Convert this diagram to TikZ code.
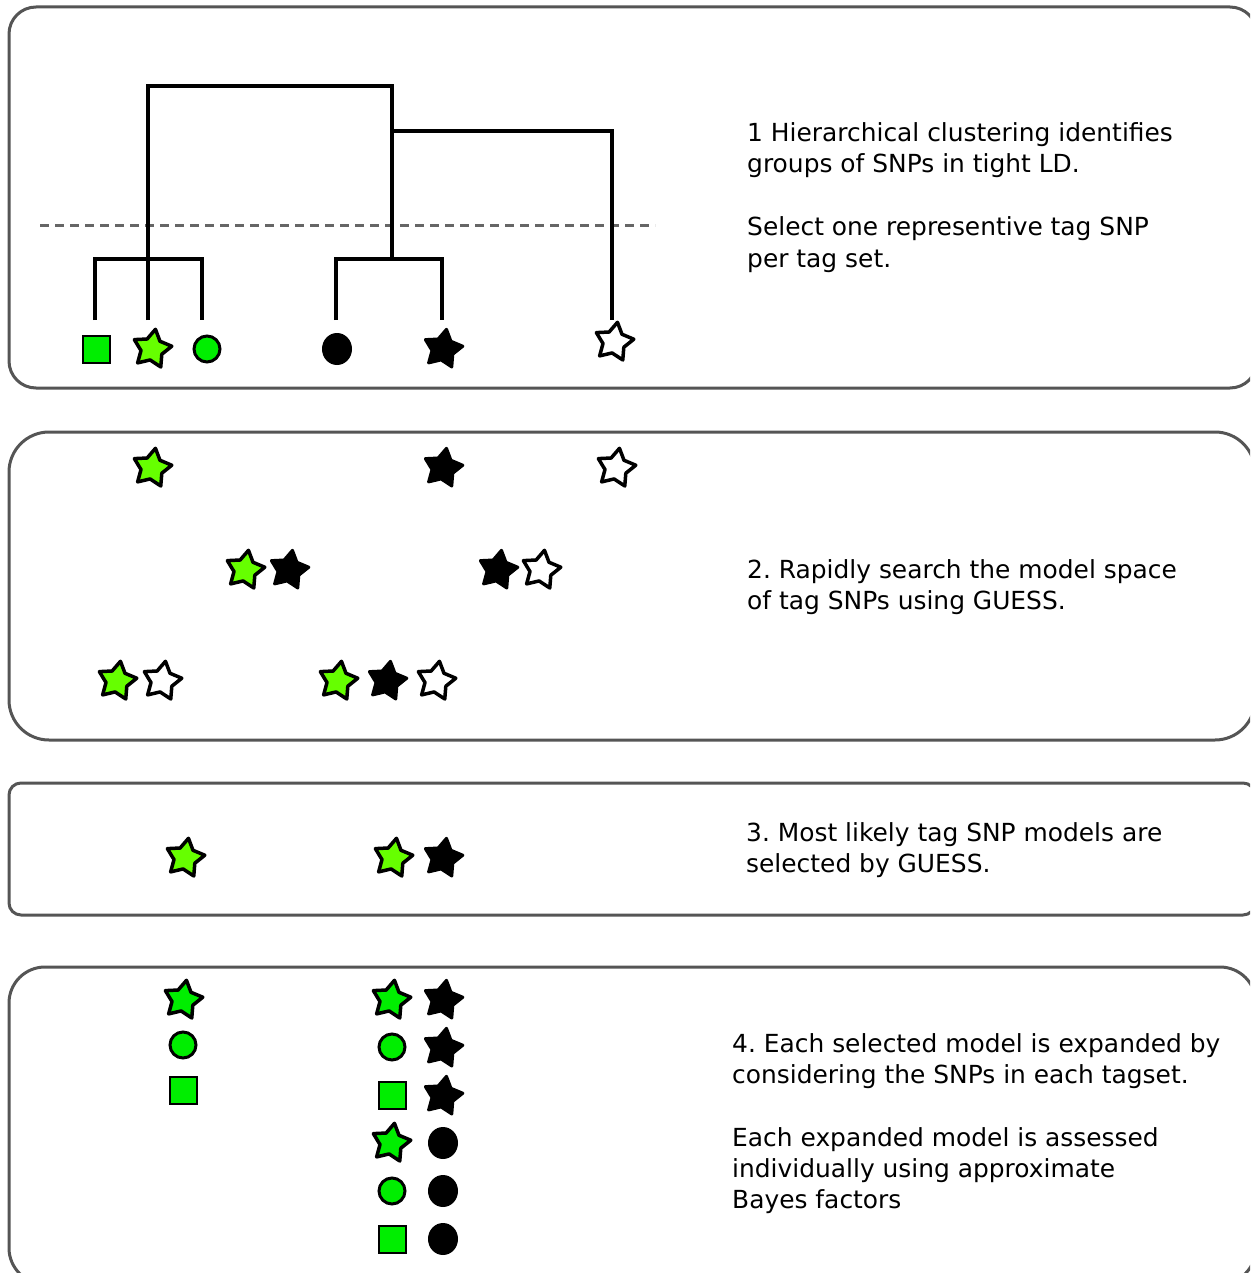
\documentclass[tikz,border=0pt]{standalone}
\usepackage{fontspec}
\setmainfont{DejaVu Sans}
\usetikzlibrary{shapes.geometric}
\definecolor{limeg}{HTML}{66FF00}
\definecolor{sgreen}{HTML}{00EE00}
\definecolor{boxgray}{HTML}{555555}
\definecolor{dashgray}{HTML}{666666}
\begin{document}
\frenchspacing
\begin{tikzpicture}[x=1pt,y=-1pt,
  panel/.style={draw=boxgray,line width=3pt},
  txt/.style={anchor=base west,inner sep=0pt,font=\fontsize{24.9}{31}\selectfont},
  starbase/.style={star,star points=5,star point ratio=1.8,minimum size=40pt,inner sep=0pt,rotate=-10,line join=round},
  gstar/.style={starbase,draw=black,fill=limeg,line width=3.5pt},
  gstarb/.style={starbase,draw=black,fill=sgreen,line width=3.5pt},
  bstar/.style={starbase,draw=black,fill=black,line width=3pt},
  wstar/.style={starbase,draw=black,fill=white,line width=3.5pt},
  gcirc/.style={circle,draw=black,fill=sgreen,line width=3pt,minimum size=26pt,inner sep=0pt},
  gsq/.style={rectangle,draw=black,fill=sgreen,line width=2pt,minimum size=27pt,inner sep=0pt},
  bcirc/.style={ellipse,fill=black,minimum width=30pt,minimum height=32pt,inner sep=0pt},
  tree/.style={line width=3.4pt,black,line join=miter},
  cutline/.style={line width=3pt,dashgray,dash pattern=on 9pt off 6pt}
]
\useasboundingbox (0,0) rectangle (1250,1273);
\clip (0,0) rectangle (1250,1273);
\fill[white] (0,0) rectangle (1250,1273);

% panels
\draw[panel,rounded corners=27pt] (9,7) rectangle (1257,388);
\draw[panel,rounded corners=40pt] (9,432) rectangle (1255,740);
\draw[panel,rounded corners=12pt] (9,783) rectangle (1255,915);
\draw[panel,rounded corners=36pt] (9,967) rectangle (1256,1284);

% panel 1 symbols
\node[gsq]   (s1) at (96,349) {};
\node[gstar] (s2) at (152,349) {};
\node[gcirc] (s3) at (207,349) {};
\node[bcirc] (s4) at (337,349) {};
\node[bstar] (s5) at (443,349) {};
\node[wstar] (s6) at (614,342) {};

% dendrogram
\coordinate (l1) at (95,320);
\coordinate (l2) at (148,320);
\coordinate (l3) at (202,320);
\coordinate (l4) at (336,320);
\coordinate (l5) at (442,320);
\coordinate (l6) at (612,320);
\coordinate (j1) at (148,86);
\coordinate (j2) at (392,86);
\coordinate (j3) at (392,131);
\coordinate (j4) at (392,259);
\draw[cutline] (40,226) -- (655,226);
\draw[tree] (l1) -- (95,259) -- (202,259) -- (l3);
\draw[tree] (l2) -- (j1) -- (j2) -- (j4);
\draw[tree] (l4) -- (336,259) -- (442,259) -- (l5);
\draw[tree] (j3) -- (612,131) -- (l6);

\node[txt] (t1a) at (747,142) {1 Hierarchical clustering identifies};
\node[txt] (t1b) at (747,173) {groups of SNPs in tight LD.};
\node[txt] (t1c) at (747,236) {Select one representive tag SNP};
\node[txt] (t1d) at (747,267) {per tag set.};

% panel 2
\node[gstar] (a1) at (152,468) {};
\node[bstar] (a2) at (443,468) {};
\node[wstar] (a3) at (616,468) {};
\node[gstar] (b1) at (245,570) {};
\node[bstar] (b2) at (289,570) {};
\node[bstar] (b3) at (498,570) {};
\node[wstar] (b4) at (541,570) {};
\node[gstar] (c1) at (117,681) {};
\node[wstar] (c2) at (162,681) {};
\node[gstar] (c3) at (338,681) {};
\node[bstar] (c4) at (387,681) {};
\node[wstar] (c5) at (436,681) {};
\node[txt] (t2a) at (747,578) {2. Rapidly search the model space};
\node[txt] (t2b) at (747,609) {of tag SNPs using GUESS.};

% panel 3
\node[gstar] (d1) at (185,858) {};
\node[gstar] (d2) at (393,858) {};
\node[bstar] (d3) at (443,858) {};
\node[txt] (t3a) at (746,841) {3. Most likely tag SNP models are};
\node[txt] (t3b) at (746,872) {selected by GUESS.};

% panel 4
\node[gstarb] (e1) at (183,1000) {};
\node[gcirc]  (e2) at (183,1045) {};
\node[gsq]    (e3) at (183,1090) {};
\node[gstarb] (f1) at (391,1000) {};
\node[gcirc]  (f2) at (392,1047) {};
\node[gsq]    (f3) at (392,1095) {};
\node[gstarb] (f4) at (391,1143) {};
\node[gcirc]  (f5) at (392,1191) {};
\node[gsq]    (f6) at (392,1239) {};
\node[bstar]  (g1) at (443,1000) {};
\node[bstar]  (g2) at (443,1048) {};
\node[bstar]  (g3) at (443,1096) {};
\node[bcirc]  (g4) at (443,1143) {};
\node[bcirc]  (g5) at (443,1191) {};
\node[bcirc]  (g6) at (443,1239) {};
\node[txt] (t4a) at (732,1052) {4. Each selected model is expanded by};
\node[txt] (t4b) at (732,1083) {considering the SNPs in each tagset.};
\node[txt] (t4c) at (732,1146) {Each expanded model is assessed};
\node[txt] (t4d) at (732,1177) {individually using approximate};
\node[txt] (t4e) at (732,1208) {Bayes factors};
\end{tikzpicture}
\end{document}
